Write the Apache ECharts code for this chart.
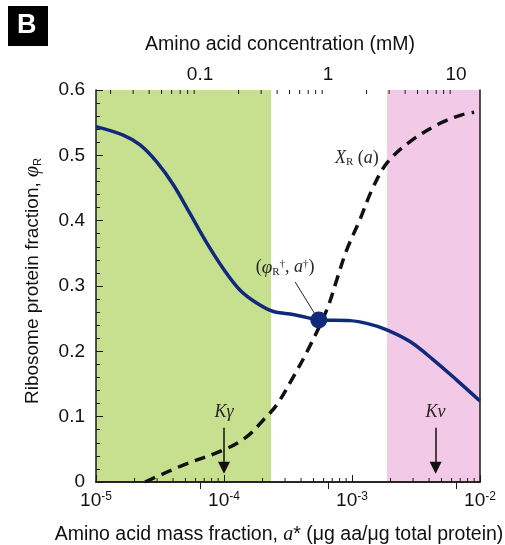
<!DOCTYPE html>
<html>
<head>
<meta charset="utf-8">
<script src="https://cdn.jsdelivr.net/npm/echarts@6/dist/echarts.min.js"></script>
<style>html,body{margin:0;padding:0;background:#fff}#c{width:505px;height:545px}</style>
</head>
<body>
<div id="c"></div>
<script>
// amino acid mass fraction a (x) for ribosome fraction curve, and phi_R values
const phiA   = [1e-5, 1.63e-5, 2.21e-5, 2.98e-5, 4.02e-5, 5.42e-5, 7.33e-5, 1.0e-4, 1.33e-4, 1.80e-4, 2.43e-4, 3.28e-4, 4.4e-4, 5.62e-4, 9.64e-4, 1.35e-3, 1.87e-3, 2.84e-3, 4.32e-3, 6.58e-3, 1e-2];
const phiR   = [0.544, 0.531, 0.516, 0.490, 0.455, 0.411, 0.366, 0.325, 0.294, 0.274, 0.261, 0.257, 0.252, 0.248, 0.247, 0.242, 0.233, 0.215, 0.187, 0.156, 0.124];
// X_R(a) dashed curve
const xrA    = [2.42e-5, 4.81e-5, 9.9e-5, 1.50e-4, 2.03e-4, 2.58e-4, 3.48e-4, 4.47e-4, 6.34e-4, 7.59e-4, 9.08e-4, 1.15e-3, 1.43e-3, 1.87e-3, 2.84e-3, 4.87e-3, 7.2e-3, 9.0e-3];
const xrVal  = [0.0, 0.026, 0.049, 0.069, 0.095, 0.118, 0.161, 0.200, 0.263, 0.309, 0.355, 0.401, 0.447, 0.488, 0.521, 0.549, 0.562, 0.566];
// steady-state point (a†, phi_R†)
const steadyPoint = [5.5e-4, 0.248];
// shaded regions (mass fraction ranges)
const greenRegion = [1e-5, 2.33e-4];
const pinkRegion  = [1.88e-3, 1e-2];
// constants Kgamma and Knu (mass fraction)
const kGamma = 1e-4;
const kNu = 4.5e-3;
// axis ranges / ticks
const xMin = 1e-5, xMax = 1e-2;
const mMPerFraction = 1 / 6.5e-4;        // top axis: concentration (mM) = a * mMPerFraction
const yMin = 0, yMax = 0.6, yStep = 0.1;
const minorMultipliers = [2, 3, 4, 5, 6, 7, 8, 9];
const bottomDecades = [1e-5, 1e-4, 1e-3];
const topDecades = [0.01, 0.1, 1, 10];

const topMin = xMin * mMPerFraction, topMax = xMax * mMPerFraction;
const bottomMinor = [];
bottomDecades.forEach(d => minorMultipliers.forEach(m => bottomMinor.push([m * d, yMin])));
const topMinor = [];
topDecades.forEach(d => minorMultipliers.forEach(m => { const v = m * d; if (v > topMin && v < topMax) topMinor.push([v, yMax]); }));

const chart = echarts.init(document.getElementById('c'), null, {renderer: 'canvas'});
const sans = 'Liberation Sans, Arial, sans-serif';
const serif = 'Liberation Serif, DejaVu Serif, serif';
const noteColor = '#2a2622';
const axisColor = '#1a1a1a';
const txt = '#111';

function minorTickSeries(data, xIdx, dir) {
  return {
    type: 'custom', xAxisIndex: xIdx, yAxisIndex: 0, silent: true, z: 10,
    data: data,
    renderItem: (params, api) => {
      const p = api.coord([api.value(0), api.value(1)]);
      return {type: 'line', shape: {x1: p[0], y1: p[1], x2: p[0], y2: p[1] + dir * 4},
              style: {stroke: axisColor, lineWidth: 1}};
    }
  };
}

const noteRich = {
  i: {fontFamily: serif, fontStyle: 'italic', fontSize: 18, color: noteColor},
  n: {fontFamily: serif, fontSize: 18, color: noteColor},
  g: {fontFamily: serif, fontStyle: 'italic', fontSize: 19, color: noteColor},
  sub: {fontFamily: serif, fontSize: 11, color: noteColor, verticalAlign: 'bottom', padding: [8, 0, 0, 0]},
  sup: {fontFamily: serif, fontSize: 11, color: noteColor, verticalAlign: 'top', padding: [0, 0, 8, 0]}
};

const option = {
  animation: false,
  backgroundColor: '#fff',
  grid: {left: 96, right: 25, top: 90, bottom: 63, show: false, containLabel: false, outerBoundsMode: 'none'},
  graphic: [
    {type: 'rect', left: 8, top: 6, shape: {width: 40, height: 40}, style: {fill: '#000'}},
    {type: 'text', left: 17, top: 12, style: {text: 'B', fill: '#fff', font: 'bold 27px ' + sans}}
  ],
  xAxis: [
    {
      type: 'log', logBase: 10, min: xMin, max: xMax, position: 'bottom', z: 3,
      axisLine: {show: true, lineStyle: {color: axisColor, width: 1.5}},
      axisTick: {inside: true, length: 7, lineStyle: {color: axisColor, width: 1}},
      splitLine: {show: false},
      axisLabel: {
        margin: 9, color: txt,
        formatter: v => '{b|10}{s|' + Math.round(Math.log10(v)) + '}',
        rich: {b: {fontFamily: sans, fontSize: 19, color: txt},
               s: {fontFamily: sans, fontSize: 12, color: txt, verticalAlign: 'top', padding: [0, 0, 7, 0]}}
      },
      name: '{n|Amino acid mass fraction, }{i|a}{n|* (μg aa/μg total protein)}',
      nameLocation: 'middle', nameGap: 43,
      nameTextStyle: {padding: [0, 18, 0, 0],
                      rich: {n: {fontFamily: sans, fontSize: 19.5, color: txt},
                             i: {fontFamily: serif, fontStyle: 'italic', fontSize: 20, color: txt}}}
    },
    {
      type: 'log', logBase: 10, min: topMin, max: topMax, position: 'top', z: 3,
      axisLine: {show: true, lineStyle: {color: axisColor, width: 1.5}},
      axisTick: {inside: true, length: 7, lineStyle: {color: axisColor, width: 1}},
      splitLine: {show: false},
      axisLabel: {margin: 6, showMinLabel: false, showMaxLabel: false, fontFamily: sans, fontSize: 19, color: txt,
                  formatter: v => String(+v.toPrecision(3))},
      name: 'Amino acid concentration (mM)', nameLocation: 'middle', nameGap: 35,
      nameTextStyle: {fontFamily: sans, fontSize: 19.5, color: txt, padding: [0, 16, 0, 0]}
    }
  ],
  yAxis: [
    {
      type: 'value', min: yMin, max: yMax, interval: yStep, position: 'left', z: 3,
      axisLine: {show: true, lineStyle: {color: axisColor, width: 1.5}},
      axisTick: {show: true, inside: true, length: 7, lineStyle: {color: axisColor}},
      minorTick: {show: true, splitNumber: 5, length: 4, lineStyle: {color: axisColor}},
      splitLine: {show: false},
      axisLabel: {margin: 11, fontFamily: sans, fontSize: 19, color: txt, formatter: v => String(+v.toFixed(1))},
      name: '{n|Ribosome protein fraction, }{g|φ}{sub|R}',
      nameLocation: 'middle', nameGap: 53,
      nameTextStyle: {padding: [0, 0, 0, 10],
                      rich: {n: {fontFamily: sans, fontSize: 19, color: txt},
                             g: {fontFamily: serif, fontStyle: 'italic', fontSize: 20, color: txt},
                             sub: {fontFamily: sans, fontSize: 11, color: txt, verticalAlign: 'bottom', padding: [6, 0, 0, 0]}}}
    },
    {
      type: 'value', min: yMin, max: yMax, position: 'right', z: 3,
      axisLine: {show: true, lineStyle: {color: axisColor, width: 1.5}},
      axisTick: {show: false}, axisLabel: {show: false}, splitLine: {show: false}
    }
  ],
  series: [
    {
      name: 'regions', type: 'line', data: [], silent: true, z: 1,
      markArea: {silent: true, data: [
        [{xAxis: greenRegion[0], itemStyle: {color: '#c6e08f'}}, {xAxis: greenRegion[1]}],
        [{xAxis: pinkRegion[0], itemStyle: {color: '#f2c9e6'}}, {xAxis: pinkRegion[1]}]
      ]}
    },
    {
      name: 'X_R(a)', type: 'line', smooth: 0.35, symbol: 'none', z: 4,
      data: xrA.map((a, i) => [a, xrVal[i]]),
      lineStyle: {color: '#111', width: 3.5, type: [11, 7], cap: 'butt'}
    },
    {
      name: 'phi_R', type: 'line', smooth: 0.35, symbol: 'none', z: 5,
      data: phiA.map((a, i) => [a, phiR[i]]),
      lineStyle: {color: '#10297a', width: 3.5}
    },
    {
      name: 'steady', type: 'scatter', z: 6, symbolSize: 17,
      data: [steadyPoint], itemStyle: {color: '#10297a', opacity: 1},
      markLine: {
        silent: true, symbol: ['none', 'none'], label: {show: false},
        lineStyle: {color: '#222', width: 1, type: 'solid'},
        data: [[{coord: [3.6e-4, 0.306]}, {coord: [5.1e-4, 0.258]}]]
      }
    },
    {
      name: 'arrows', type: 'scatter', data: [], z: 6,
      markLine: {
        silent: true, symbol: ['none', 'triangle'], symbolSize: [12, 12], label: {show: false},
        lineStyle: {color: '#111', width: 1.5, type: 'solid'}, itemStyle: {color: '#111'},
        data: [
          [{coord: [kGamma, 0.083]}, {coord: [kGamma, 0.022]}],
          [{coord: [kNu, 0.083]}, {coord: [kNu, 0.022]}]
        ]
      }
    },
    {
      name: 'notes', type: 'scatter', symbolSize: 0, z: 7, silent: true,
      itemStyle: {opacity: 1},
      label: {show: true, position: 'inside', rich: noteRich},
      data: [
        {value: [1.09e-3, 0.496], label: {formatter: '{i|X}{sub|R}{n| (}{i|a}{n|)}'}},
        {value: [3.0e-4, 0.328], label: {formatter: '{n|(}{g|φ}{sub|R}{sup|†}{n|, }{i|a}{sup|†}{n|)}'}},
        {value: [kGamma, 0.106], label: {formatter: '{i|Kγ}'}},
        {value: [kNu, 0.106], label: {formatter: '{i|Kν}'}}
      ]
    },
    minorTickSeries(bottomMinor, 0, -1),
    minorTickSeries(topMinor, 1, 1)
  ]
};
chart.setOption(option);
</script>
</body>
</html>
